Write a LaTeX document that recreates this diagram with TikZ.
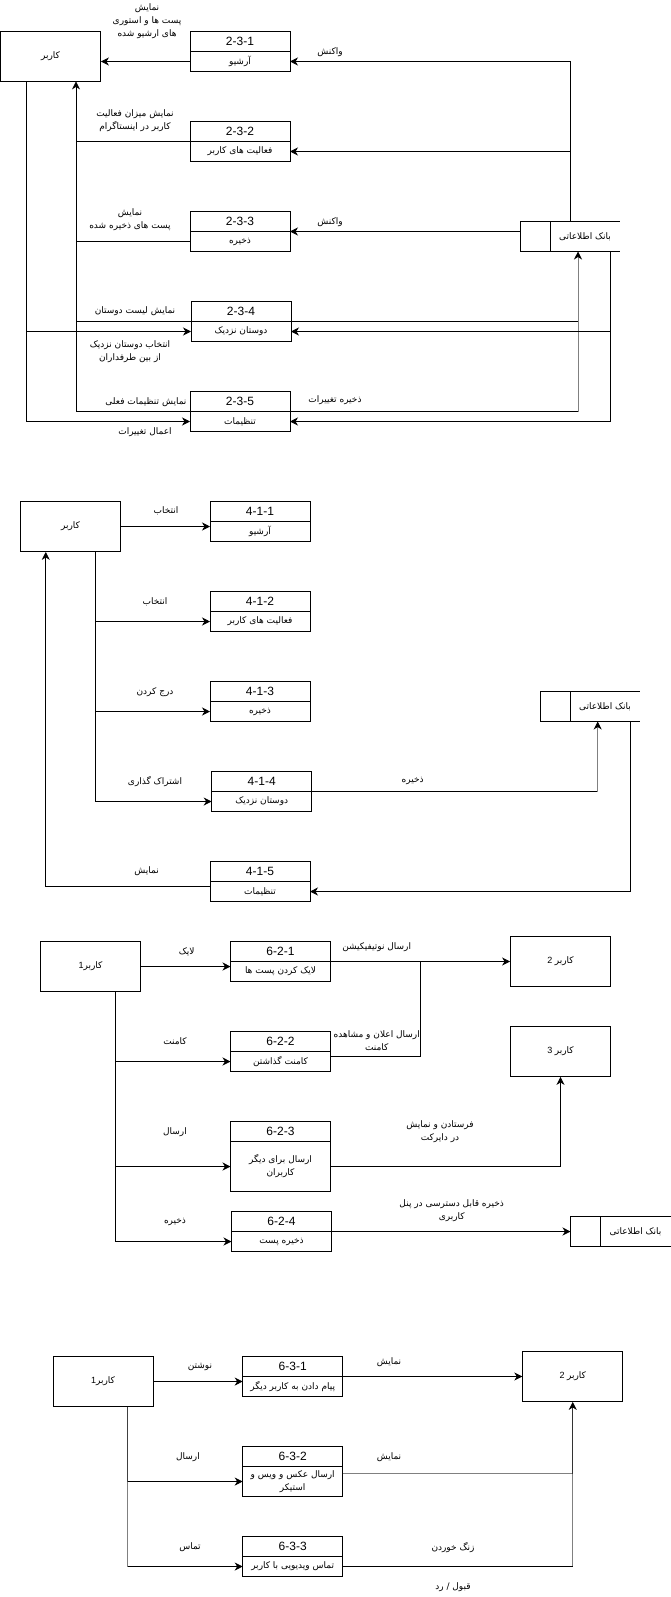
\documentclass[tikz,border=0pt]{standalone}
\usepackage{fontspec}
\setmainfont{Liberation Sans}
\newfontfamily\arabicfont[Script=Arabic]{DejaVu Sans}
\TeXXeTstate=1
\usetikzlibrary{positioning,arrows.meta}
\newcommand{\fatext}[1]{{\arabicfont\beginR #1\endR}}

\begin{document}
\begin{tikzpicture}[x=1pt,y=-1pt,line width=0.8pt,
ent/.style={draw,minimum width=100pt,minimum height=50pt,inner sep=0pt,font=\fontsize{9}{11}\selectfont},
numbox/.style={draw,minimum width=100pt,minimum height=20pt,inner sep=0pt,outer sep=0pt,font=\fontsize{12}{14}\selectfont},
procbox/.style={draw,minimum width=100pt,minimum height=20pt,inner sep=0pt,outer sep=0pt,align=center,font=\fontsize{9}{13}\selectfont},
dbtext/.style={minimum width=70pt,minimum height=30pt,inner sep=0pt,outer sep=0pt,font=\fontsize{9}{11}\selectfont},
dbcell/.style={draw,minimum width=30pt,minimum height=30pt,inner sep=0pt,outer sep=0pt},
lbl/.style={inner sep=0pt,align=center,font=\fontsize{9}{13}\selectfont},
flow/.style={-{Stealth[length=8pt,width=8pt,inset=2.5pt,color=black]}}]
\useasboundingbox (0,0) rectangle (671,1597);

% ---- part 1: 2-3
\node[ent] (u1) at (50.5,56) {\fatext{کاربر}};
\node[numbox] (p231n) at (240,41.5) {2-3-1};
\node[procbox,below=0pt of p231n] (p231) {\fatext{آرشیو}};
\node[numbox] (p232n) at (240,131.5) {2-3-2};
\node[procbox,below=0pt of p232n] (p232) {\fatext{فعالیت های کاربر}};
\node[numbox] (p233n) at (240,221.5) {2-3-3};
\node[procbox,below=0pt of p233n] (p233) {\fatext{ذخیره}};
\node[numbox] (p234n) at (241,311.5) {2-3-4};
\node[procbox,below=0pt of p234n] (p234) {\fatext{دوستان نزدیک}};
\node[numbox] (p235n) at (240,401.5) {2-3-5};
\node[procbox,below=0pt of p235n] (p235) {\fatext{تنظیمات}};
% data store
\node[dbtext] (db1) at (585,236.5) {\fatext{بانک اطلاعاتی}};
\node[dbcell,left=0pt of db1] (db1c) {};
\draw (db1c.north east) -- (db1.north east) (db1c.south east) -- (db1.south east);
% labels
\node[lbl] (l11) at (147,21) {\fatext{نمایش}\\\fatext{پست ها و استوری}\\\fatext{های ارشیو شده}};
\node[lbl] (l12) at (135,121) {\fatext{نمایش میزان فعالیت}\\\fatext{کاربر در اینستاگرام}};
\node[lbl] (l13) at (130,220) {\fatext{نمایش}\\\fatext{پست های ذخیره شده}};
\node[lbl] (l14) at (135,311) {\fatext{نمایش لیست دوستان}};
\node[lbl] (l15) at (130,351.5) {\fatext{انتخاب دوستان نزدیک}\\\fatext{از بین طرفداران}};
\node[lbl] (l16) at (146,402) {\fatext{نمایش تنظیمات فعلی}};
\node[lbl] (l17) at (145,432) {\fatext{اعمال تغییرات}};
\node[lbl] (l18) at (330,52) {\fatext{واکنش}};
\node[lbl] (l19) at (330,222) {\fatext{واکنش}};
\node[lbl] (l110) at (335,400) {\fatext{ذخیره تغییرات}};
% flows
\draw[flow] (p231.west) -- (p231.west -| u1.east);
\coordinate (j11) at (76,411.5);
\draw[flow] (p235n.south west) -- (j11) -- (j11 |- u1.south);
\draw (p232n.south west) -- (p232n.south west -| j11);
\draw (p233.west) -- (p233.west -| j11);
\draw (p234n.south west) -- (p234n.south west -| j11);
\coordinate (j12) at (26,421.5);
\draw[flow] (j12 |- u1.south) -- (j12) -- (p235.west);
\draw[flow] (j12 |- p234.west) -- (p234.west);
\draw[flow] ([xshift=20pt]db1c.north east) |- (p231.east);
\draw[flow] ([xshift=20pt]db1c.north east |- p232.east) -- (p232.east);
\draw[flow] (db1c.west |- p233n.south) -- (p233n.south east);
\coordinate (j13) at ([xshift=28pt]db1.south west);
\draw (p235n.south east) -- (p235n.south east -| j13);
\draw (p234n.south east) -- (p234n.south east -| j13);
\draw[flow,gray] (p235n.south east -| j13) -- (j13);
\draw[flow] ([xshift=-10pt]db1.south east) |- (p235.east);
\draw[flow] ([xshift=-10pt]db1.south east |- p234.east) -- (p234.east);

% ---- part 2: 4-1
\node[ent] (u2) at (70.5,526.5) {\fatext{کاربر}};
\node[numbox] (p411n) at (260,511.5) {4-1-1};
\node[procbox,below=0pt of p411n] (p411) {\fatext{آرشیو}};
\node[numbox] (p412n) at (260,601.5) {4-1-2};
\node[procbox,below=0pt of p412n] (p412) {\fatext{فعالیت های کاربر}};
\node[numbox] (p413n) at (260,691.5) {4-1-3};
\node[procbox,below=0pt of p413n] (p413) {\fatext{ذخیره}};
\node[numbox] (p414n) at (261.7,781.5) {4-1-4};
\node[procbox,below=0pt of p414n] (p414) {\fatext{دوستان نزدیک}};
\node[numbox] (p415n) at (260,871.5) {4-1-5};
\node[procbox,below=0pt of p415n] (p415) {\fatext{تنظیمات}};
% data store
\node[dbtext] (db2) at (605,706.5) {\fatext{بانک اطلاعاتی}};
\node[dbcell,left=0pt of db2] (db2c) {};
\draw (db2c.north east) -- (db2.north east) (db2c.south east) -- (db2.south east);
% labels
\node[lbl] (l21) at (166,511) {\fatext{انتخاب}};
\node[lbl] (l22) at (155,601.5) {\fatext{انتخاب}};
\node[lbl] (l23) at (155,692) {\fatext{درج کردن}};
\node[lbl] (l24) at (155,781.5) {\fatext{اشتراک گذاری}};
\node[lbl] (l25) at (146.7,871.5) {\fatext{نمایش}};
\node[lbl] (l26) at (412.7,781) {\fatext{ذخیره}};
% flows
\draw[flow] (u2.east) -- (u2.east -| p411.west);
\coordinate (j21) at (95.7,801.5);
\draw[flow] (j21 |- u2.south) -- (j21) -- (p414.west);
\draw[flow] (j21 |- p412.west) -- (p412.west);
\draw[flow] (j21 |- p413.west) -- (p413.west);
\draw[flow] ([yshift=5pt]p415.west) -| ([xshift=25.7pt]u2.south west);
\coordinate (j22) at ([xshift=27.7pt]db2.south west);
\draw (p414n.south east) -- (p414n.south east -| j22);
\draw[flow,gray] (p414n.south east -| j22) -- (j22);
\draw[flow] ([xshift=-10pt]db2.south east) |- (p415.east);

% ---- part 3: 6-2
\node[ent] (u3) at (90.5,966.5) {1\fatext{کاربر}};
\node[numbox] (p621n) at (280.5,951.5) {6-2-1};
\node[procbox,below=0pt of p621n] (p621) {\fatext{لایک کردن پست ها}};
\node[numbox] (p622n) at (280.5,1041.5) {6-2-2};
\node[procbox,below=0pt of p622n] (p622) {\fatext{کامنت گذاشتن}};
\node[numbox] (p623n) at (280.5,1131.5) {6-2-3};
\node[procbox,minimum height=50pt,below=0pt of p623n] (p623) {\fatext{ارسال برای دیگر}\\\fatext{کاربران}};
\node[numbox] (p624n) at (281.5,1221.5) {6-2-4};
\node[procbox,below=0pt of p624n] (p624) {\fatext{ذخیره پست}};
\node[ent] (u32) at (560.5,961.5) {2 \fatext{کاربر}};
\node[ent] (u33) at (560.5,1051.5) {3 \fatext{کاربر}};
% data store
\node[dbtext] (db3) at (635.5,1231.5) {\fatext{بانک اطلاعاتی}};
\node[dbcell,left=0pt of db3] (db3c) {};
\draw (db3c.north east) -- (db3.north east) (db3c.south east) -- (db3.south east);
% labels
\node[lbl] (l31) at (186.7,951.7) {\fatext{لایک}};
\node[lbl] (l32) at (175,1041) {\fatext{کامنت}};
\node[lbl] (l33) at (175,1131.7) {\fatext{ارسال}};
\node[lbl] (l34) at (175,1221.7) {\fatext{ذخیره}};
\node[lbl] (l35) at (376.7,946.7) {\fatext{ارسال نوتیفیکیشن}};
\node[lbl] (l36) at (376.7,1041) {\fatext{ارسال اعلان و مشاهده}\\\fatext{کامنت}};
\node[lbl] (l37) at (440,1132) {\fatext{فرستادن و نمایش}\\\fatext{در دایرکت}};
\node[lbl] (l38) at (451.7,1211) {\fatext{ذخیره قابل دسترسی در پنل}\\\fatext{کاربری}};
% flows
\draw[flow] (u3.east) -- (u3.east -| p621.west);
\coordinate (j31) at (115.7,1241.5);
\draw[flow] (j31 |- u3.south) -- (j31) -- (p624.west);
\draw[flow] (j31 |- p622.west) -- (p622.west);
\draw[flow] (j31 |- p623.west) -- (p623.west);
\draw[flow] (p621n.south east) -- (u32.west);
\coordinate (j32) at (420,961.5);
\draw ([yshift=5.5pt]p622.east) -| (j32);
\draw[flow] (p623.east) -| (u33.south);
\draw[flow] (p624n.south east) -- (db3c.west);

% ---- part 4: 6-3
\node[ent] (u4) at (103,1381.5) {1\fatext{کاربر}};
\node[numbox] (p631n) at (292.7,1366.5) {6-3-1};
\node[procbox,below=0pt of p631n] (p631) {\fatext{پیام دادن به کاربر دیگر}};
\node[numbox] (p632n) at (292.7,1456.5) {6-3-2};
\node[procbox,minimum height=30pt,below=0pt of p632n] (p632) {\fatext{ارسال عکس و ویس و}\\\fatext{استیکر}};
\node[numbox] (p633n) at (292.7,1546.5) {6-3-3};
\node[procbox,below=0pt of p633n] (p633) {\fatext{تماس ویدیویی با کاربر}};
\node[ent] (u42) at (572.7,1376.5) {2 \fatext{کاربر}};
% labels
\node[lbl] (l41) at (200,1366.7) {\fatext{نوشتن}};
\node[lbl] (l42) at (188,1456.7) {\fatext{ارسال}};
\node[lbl] (l43) at (190,1546.7) {\fatext{تماس}};
\node[lbl] (l44) at (389,1361.7) {\fatext{نمایش}};
\node[lbl] (l45) at (389,1456.7) {\fatext{نمایش}};
\node[lbl] (l46) at (453,1548) {\fatext{زنگ خوردن}};
\node[lbl] (l47) at (453,1586.7) {\fatext{قبول / رد}};
% flows
\draw[flow] (u4.east) -- (u4.east -| p631.west);
\coordinate (j41) at (127.7,1566.5);
\draw[black!75] (j41 |- u4.south) -- (j41 |- p632.west);
\draw[gray] (j41 |- p632.west) -- (j41);
\draw[flow] (j41) -- (p633.west);
\draw[flow] (j41 |- p632.west) -- (p632.west);
\draw[flow] (p631n.south east) -- (u42.west);
\coordinate (m632) at ([yshift=8pt]p632.east);
\coordinate (j42) at (u42.south |- p633.east);
\coordinate (j43) at (m632 -| u42.south);
\draw[gray] (m632) -- (j43) -- (j42);
\draw (p633.east) -- (j42);
\draw[flow,black!80] (j43) -- (u42.south);
\end{tikzpicture}
\end{document}
